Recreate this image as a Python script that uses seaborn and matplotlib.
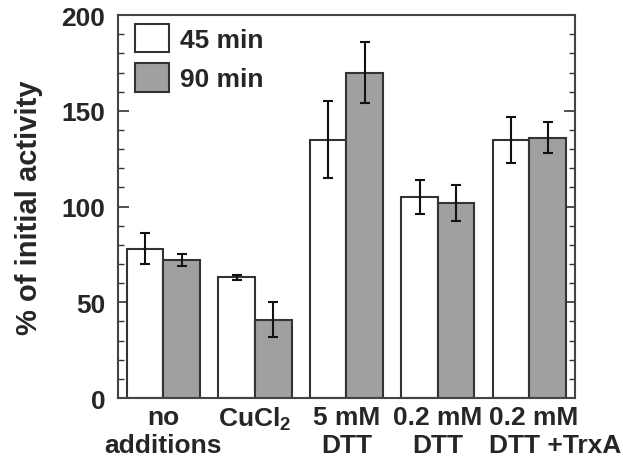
import pandas as pd
import seaborn as sns
import matplotlib
matplotlib.use("Agg")
import matplotlib.pyplot as plt
from matplotlib.ticker import MultipleLocator
from matplotlib.transforms import ScaledTranslation

# Values
conditions = ["no\nadditions", "CuCl$_2$", "5 mM\nDTT", "0.2 mM\nDTT", "0.2 mM\nDTT +TrxA"]
times = ["45 min", "90 min"]
act_45 = [78, 63, 135, 105, 135]
err_45 = [8, 1.5, 20, 9, 12]
act_90 = [72, 41, 170, 102, 136]
err_90 = [3, 9, 16, 9.5, 8]

df = pd.DataFrame({
    "condition": conditions * 2,
    "time": [times[0]] * 5 + [times[1]] * 5,
    "activity": act_45 + act_90,
    "err": err_45 + err_90,
})

sns.set_style("ticks")
plt.rcParams["font.family"] = ["Liberation Sans", "DejaVu Sans"]
plt.rcParams["font.weight"] = "bold"
plt.rcParams["mathtext.fontset"] = "custom"
plt.rcParams["mathtext.rm"] = "Liberation Sans:bold"
plt.rcParams["mathtext.default"] = "rm"

fig = plt.figure(figsize=(6.23, 4.6), dpi=100)
ax = fig.add_axes([0.189, 0.1326, 0.734, 0.8324])

edge = "#333333"
sns.barplot(data=df, x="condition", y="activity", hue="time", order=conditions,
            hue_order=times, palette=["white", "#a0a0a0"], edgecolor=edge,
            linewidth=1.5, errorbar=None, width=0.8, saturation=1, ax=ax)

# error bars at the centres of the drawn bars
for cont, t in zip(ax.containers, times):
    errs = df[df["time"] == t].set_index("condition").loc[conditions, "err"].values
    for bar, e in zip(cont, errs):
        ax.errorbar(bar.get_x() + bar.get_width() / 2, bar.get_height(), yerr=e,
                    fmt="none", ecolor="#111111", elinewidth=1.5, capsize=3.5, capthick=1.5)

ax.set_ylim(0, 200)
ax.set_xlim(-0.5, 4.5)
ax.yaxis.set_major_locator(MultipleLocator(50))
ax.yaxis.set_minor_locator(MultipleLocator(10))
ax.tick_params(axis="y", which="major", direction="in", length=8, width=1.2,
               right=True, labelsize=19, pad=9, color=edge)
ax.tick_params(axis="y", which="minor", direction="in", length=4.5, width=1.0,
               right=True, color=edge)
ax.tick_params(axis="x", length=0, labelsize=19, pad=5)
for s in ax.spines.values():
    s.set_linewidth(1.5)
    s.set_color("#444444")

# last label sits left-aligned, shifted right like in the original
last = ax.get_xticklabels()[-1]
last.set_horizontalalignment("left")
last.set_multialignment("left")
last.set_transform(last.get_transform() + ScaledTranslation(-0.40, 0, fig.dpi_scale_trans))

ax.set_xlabel("")
ax.set_ylabel("% of initial activity", fontsize=21, fontweight="bold", labelpad=13)

ax.legend(loc="upper left", bbox_to_anchor=(0.037, 0.978), frameon=False,
          fontsize=19, handlelength=1.3, handleheight=1.3, labelspacing=0.4,
          handletextpad=0.4, borderpad=0, borderaxespad=0)

fig.savefig("out.png", dpi=100)
